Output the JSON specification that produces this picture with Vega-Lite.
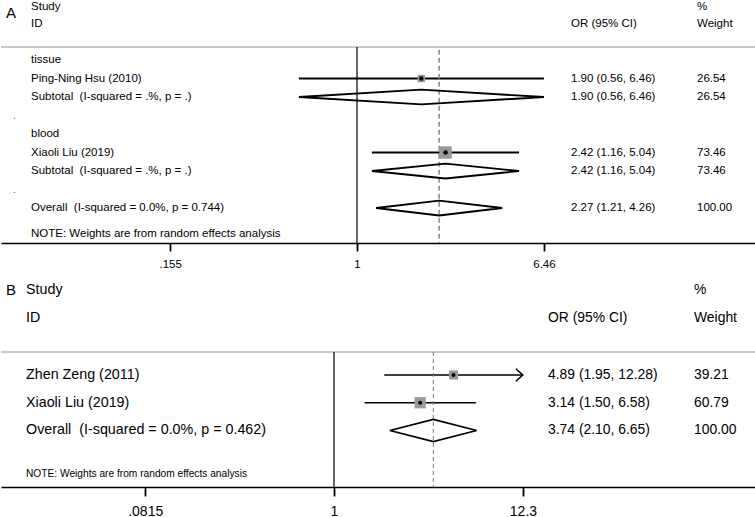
{
  "$schema": "https://vega.github.io/schema/vega-lite/v6.json",
  "padding": 0,
  "bounds": "flush",
  "spacing": 37,
  "config": {
    "view": {"stroke": null},
    "font": "Liberation Sans",
    "axis": {"grid": false, "domainColor": "#000000", "tickColor": "#000000", "labelColor": "#000000", "labelFont": "Liberation Sans", "labelFlush": false, "labelOverlap": false, "domainWidth": 1.3, "tickWidth": 1.8}
  },
  "datasets": {
    "rowsA": [
      {"row": -1.865, "label": "Study", "ci": "", "wt": "%"},
      {"row": -0.946, "label": "ID", "ci": "OR (95% CI)", "wt": "Weight"},
      {"row": 1, "label": "tissue", "ci": "", "wt": ""},
      {"row": 2, "label": "Ping-Ning Hsu (2010)", "ci": "1.90 (0.56, 6.46)", "wt": "26.54"},
      {"row": 3, "label": "Subtotal \u00a0(I-squared = .%, p = .)", "ci": "1.90 (0.56, 6.46)", "wt": "26.54"},
      {"row": 5, "label": "blood", "ci": "", "wt": ""},
      {"row": 6, "label": "Xiaoli Liu (2019)", "ci": "2.42 (1.16, 5.04)", "wt": "73.46"},
      {"row": 7, "label": "Subtotal \u00a0(I-squared = .%, p = .)", "ci": "2.42 (1.16, 5.04)", "wt": "73.46"},
      {"row": 9, "label": "Overall \u00a0(I-squared = 0.0%, p = 0.744)", "ci": "2.27 (1.21, 4.26)", "wt": "100.00"},
      {"row": 10.4, "label": "NOTE: Weights are from random effects analysis", "ci": "", "wt": ""}
    ],
    "dotsA": [{"row": 4, "label": "."}, {"row": 8, "label": "."}],
    "studiesA": [
      {"row": 2, "or": 1.90, "lci": 0.56, "uci": 6.46, "w": 26.54},
      {"row": 6, "or": 2.42, "lci": 1.16, "uci": 5.04, "w": 73.46}
    ],
    "diamondsA": [
      {"id": "tissue", "k": 0, "x": 0.56, "row": 3},
      {"id": "tissue", "k": 1, "x": 1.90, "row": 2.6},
      {"id": "tissue", "k": 2, "x": 6.46, "row": 3},
      {"id": "tissue", "k": 3, "x": 1.90, "row": 3.4},
      {"id": "tissue", "k": 4, "x": 0.56, "row": 3},
      {"id": "blood", "k": 0, "x": 1.16, "row": 7},
      {"id": "blood", "k": 1, "x": 2.42, "row": 6.6},
      {"id": "blood", "k": 2, "x": 5.04, "row": 7},
      {"id": "blood", "k": 3, "x": 2.42, "row": 7.4},
      {"id": "blood", "k": 4, "x": 1.16, "row": 7},
      {"id": "overall", "k": 0, "x": 1.21, "row": 9},
      {"id": "overall", "k": 1, "x": 2.27, "row": 8.6},
      {"id": "overall", "k": 2, "x": 4.26, "row": 9},
      {"id": "overall", "k": 3, "x": 2.27, "row": 9.4},
      {"id": "overall", "k": 4, "x": 1.21, "row": 9}
    ],
    "rowsB": [
      {"row": -2.063, "label": "Study", "ci": "", "wt": "%"},
      {"row": -1.054, "label": "ID", "ci": "OR (95% CI)", "wt": "Weight"},
      {"row": 1, "label": "Zhen Zeng (2011)", "ci": "4.89 (1.95, 12.28)", "wt": "39.21"},
      {"row": 2, "label": "Xiaoli Liu (2019)", "ci": "3.14 (1.50, 6.58)", "wt": "60.79"},
      {"row": 3, "label": "Overall \u00a0(I-squared = 0.0%, p = 0.462)", "ci": "3.74 (2.10, 6.65)", "wt": "100.00"}
    ],
    "noteB": [{"row": 4.56, "label": "NOTE: Weights are from random effects analysis"}],
    "studiesB": [
      {"row": 1, "or": 4.89, "lci": 1.95, "uci": 12.28, "w": 39.21},
      {"row": 2, "or": 3.14, "lci": 1.50, "uci": 6.58, "w": 60.79}
    ],
    "diamondsB": [
      {"id": "overall", "k": 0, "x": 2.10, "row": 3},
      {"id": "overall", "k": 1, "x": 3.74, "row": 2.6},
      {"id": "overall", "k": 2, "x": 6.65, "row": 3},
      {"id": "overall", "k": 3, "x": 3.74, "row": 3.4},
      {"id": "overall", "k": 4, "x": 2.10, "row": 3}
    ]
  },
  "vconcat": [
    {
      "width": 755,
      "height": 243,
      "layer": [
        {
          "data": {"name": "studiesA"},
          "mark": {"type": "rule", "color": "#000000", "strokeWidth": 1.8},
          "encoding": {
            "x": {"field": "lci", "type": "quantitative", "title": null, "scale": {"type": "log", "domain": [0.02864, 53.63], "nice": false, "zero": false}, "axis": {"values": [0.155, 1, 6.46], "labelExpr": "datum.value < 1 ? slice(toString(datum.value), 1) : toString(datum.value)", "labelFontSize": 11.5, "tickSize": 8, "labelPadding": 7, "title": null}},
            "x2": {"field": "uci"},
            "y": {"field": "row", "type": "quantitative", "scale": {"domain": [-2.243, 10.89], "reverse": true, "nice": false, "zero": false}, "axis": null}
          }
        },
        {
          "data": {"values": [{}]},
          "mark": {"type": "rule", "color": "#c3cbd0", "strokeWidth": 1.8},
          "encoding": {"y": {"datum": 0.297, "type": "quantitative", "axis": null}}
        },
        {
          "data": {"values": [{}]},
          "mark": {"type": "rule", "color": "#000000", "strokeWidth": 1.2},
          "encoding": {
            "x": {"datum": 1, "type": "quantitative", "title": null},
            "y": {"datum": 0.297, "type": "quantitative", "axis": null},
            "y2": {"datum": 10.89}
          }
        },
        {
          "data": {"values": [{}]},
          "mark": {"type": "rule", "color": "#7d8c97", "strokeWidth": 1.5, "strokeDash": [5, 3]},
          "encoding": {
            "x": {"datum": 2.27, "type": "quantitative", "title": null},
            "y": {"datum": 0.45, "type": "quantitative", "axis": null},
            "y2": {"datum": 10.89}
          }
        },
        {
          "data": {"name": "studiesA"},
          "mark": {"type": "point", "shape": "square", "filled": true, "color": "#9a9a9a", "opacity": 1},
          "encoding": {
            "x": {"field": "or", "type": "quantitative", "title": null},
            "y": {"field": "row", "type": "quantitative", "axis": null},
            "size": {"field": "w", "type": "quantitative", "scale": {"domain": [0, 100], "range": [0, 210]}, "legend": null}
          }
        },
        {
          "data": {"name": "studiesA"},
          "mark": {"type": "point", "shape": "circle", "filled": true, "color": "#000000", "opacity": 1, "size": 20},
          "encoding": {
            "x": {"field": "or", "type": "quantitative", "title": null},
            "y": {"field": "row", "type": "quantitative", "axis": null}
          }
        },
        {
          "data": {"name": "diamondsA"},
          "mark": {"type": "line", "color": "#000000", "strokeWidth": 1.9, "strokeJoin": "miter"},
          "encoding": {
            "x": {"field": "x", "type": "quantitative", "title": null},
            "y": {"field": "row", "type": "quantitative", "axis": null},
            "detail": {"field": "id"},
            "order": {"field": "k", "type": "quantitative"}
          }
        },
        {
          "data": {"name": "rowsA"},
          "mark": {"type": "text", "align": "left", "baseline": "middle", "fontSize": 11.5, "color": "#000000"},
          "encoding": {
            "x": {"datum": 0.03865, "type": "quantitative", "title": null},
            "y": {"field": "row", "type": "quantitative", "axis": null},
            "text": {"field": "label"}
          }
        },
        {
          "data": {"name": "rowsA"},
          "mark": {"type": "text", "align": "left", "baseline": "middle", "fontSize": 11.5, "color": "#000000"},
          "encoding": {
            "x": {"datum": 8.463, "type": "quantitative", "title": null},
            "y": {"field": "row", "type": "quantitative", "axis": null},
            "text": {"field": "ci"}
          }
        },
        {
          "data": {"name": "rowsA"},
          "mark": {"type": "text", "align": "left", "baseline": "middle", "fontSize": 11.5, "color": "#000000"},
          "encoding": {
            "x": {"datum": 29.76, "type": "quantitative", "title": null},
            "y": {"field": "row", "type": "quantitative", "axis": null},
            "text": {"field": "wt"}
          }
        },
        {
          "data": {"name": "dotsA"},
          "mark": {"type": "text", "align": "left", "baseline": "middle", "fontSize": 10, "color": "#555555"},
          "encoding": {
            "x": {"datum": 0.0323, "type": "quantitative", "title": null},
            "y": {"field": "row", "type": "quantitative", "axis": null},
            "text": {"field": "label"}
          }
        },
        {
          "data": {"values": [{"row": -1.54, "label": "A"}]},
          "mark": {"type": "text", "align": "left", "baseline": "middle", "fontSize": 15, "color": "#000000"},
          "encoding": {
            "x": {"datum": 0.0301, "type": "quantitative", "title": null},
            "y": {"field": "row", "type": "quantitative", "axis": null},
            "text": {"field": "label"}
          }
        }
      ]
    },
    {
      "width": 755,
      "height": 207,
      "layer": [
        {
          "data": {"name": "studiesB"},
          "mark": {"type": "rule", "color": "#000000", "strokeWidth": 1.4},
          "encoding": {
            "x": {"field": "lci", "type": "quantitative", "title": null, "scale": {"type": "log", "domain": [0.01201, 271.6], "nice": false, "zero": false}, "axis": {"values": [0.0815, 1, 12.3], "labelExpr": "datum.value < 1 ? slice(toString(datum.value), 1) : toString(datum.value)", "labelFontSize": 14, "tickSize": 9, "labelPadding": 8, "title": null}},
            "x2": {"field": "uci"},
            "y": {"field": "row", "type": "quantitative", "scale": {"domain": [-2.423, 5.036], "reverse": true, "nice": false, "zero": false}, "axis": null}
          }
        },
        {
          "data": {"values": [{}]},
          "mark": {"type": "rule", "color": "#c3cbd0", "strokeWidth": 1.8},
          "encoding": {"y": {"datum": 0.171, "type": "quantitative", "axis": null}}
        },
        {
          "data": {"values": [{}]},
          "mark": {"type": "rule", "color": "#000000", "strokeWidth": 1.2},
          "encoding": {
            "x": {"datum": 1, "type": "quantitative", "title": null},
            "y": {"datum": 0.171, "type": "quantitative", "axis": null},
            "y2": {"datum": 5.036}
          }
        },
        {
          "data": {"values": [{}]},
          "mark": {"type": "rule", "color": "#6f7d88", "strokeWidth": 1, "strokeDash": [4, 3]},
          "encoding": {
            "x": {"datum": 3.74, "type": "quantitative", "title": null},
            "y": {"datum": 0.171, "type": "quantitative", "axis": null},
            "y2": {"datum": 5.036}
          }
        },
        {
          "data": {"name": "studiesB"},
          "transform": [{"filter": "datum.uci > 12"}],
          "mark": {"type": "point", "shape": "M-1,-0.9L0,0L-1,0.9", "filled": false, "color": "#000000", "strokeWidth": 1.5, "opacity": 1, "size": 196},
          "encoding": {
            "x": {"field": "uci", "type": "quantitative", "title": null},
            "y": {"field": "row", "type": "quantitative", "axis": null}
          }
        },
        {
          "data": {"name": "studiesB"},
          "mark": {"type": "point", "shape": "square", "filled": true, "color": "#9a9a9a", "opacity": 1},
          "encoding": {
            "x": {"field": "or", "type": "quantitative", "title": null},
            "y": {"field": "row", "type": "quantitative", "axis": null},
            "size": {"field": "w", "type": "quantitative", "scale": {"domain": [0, 100], "range": [0, 115]}, "legend": null}
          }
        },
        {
          "data": {"name": "studiesB"},
          "mark": {"type": "point", "shape": "circle", "filled": true, "color": "#000000", "opacity": 1, "size": 16},
          "encoding": {
            "x": {"field": "or", "type": "quantitative", "title": null},
            "y": {"field": "row", "type": "quantitative", "axis": null}
          }
        },
        {
          "data": {"name": "diamondsB"},
          "mark": {"type": "line", "color": "#000000", "strokeWidth": 1.6, "strokeJoin": "miter"},
          "encoding": {
            "x": {"field": "x", "type": "quantitative", "title": null},
            "y": {"field": "row", "type": "quantitative", "axis": null},
            "detail": {"field": "id"},
            "order": {"field": "k", "type": "quantitative"}
          }
        },
        {
          "data": {"name": "rowsB"},
          "mark": {"type": "text", "align": "left", "baseline": "middle", "fontSize": 14.3, "color": "#000000"},
          "encoding": {
            "x": {"datum": 0.01674, "type": "quantitative", "title": null},
            "y": {"field": "row", "type": "quantitative", "axis": null},
            "text": {"field": "label"}
          }
        },
        {
          "data": {"name": "rowsB"},
          "mark": {"type": "text", "align": "left", "baseline": "middle", "fontSize": 13.9, "color": "#000000"},
          "encoding": {
            "x": {"datum": 17.15, "type": "quantitative", "title": null},
            "y": {"field": "row", "type": "quantitative", "axis": null},
            "text": {"field": "ci"}
          }
        },
        {
          "data": {"name": "rowsB"},
          "mark": {"type": "text", "align": "left", "baseline": "middle", "fontSize": 13.9, "color": "#000000"},
          "encoding": {
            "x": {"datum": 119.2, "type": "quantitative", "title": null},
            "y": {"field": "row", "type": "quantitative", "axis": null},
            "text": {"field": "wt"}
          }
        },
        {
          "data": {"name": "noteB"},
          "mark": {"type": "text", "align": "left", "baseline": "middle", "fontSize": 10.2, "color": "#000000"},
          "encoding": {
            "x": {"datum": 0.01674, "type": "quantitative", "title": null},
            "y": {"field": "row", "type": "quantitative", "axis": null},
            "text": {"field": "label"}
          }
        },
        {
          "data": {"values": [{"row": -2.045, "label": "B"}]},
          "mark": {"type": "text", "align": "left", "baseline": "middle", "fontSize": 15, "color": "#000000"},
          "encoding": {
            "x": {"datum": 0.01283, "type": "quantitative", "title": null},
            "y": {"field": "row", "type": "quantitative", "axis": null},
            "text": {"field": "label"}
          }
        }
      ]
    }
  ]
}
